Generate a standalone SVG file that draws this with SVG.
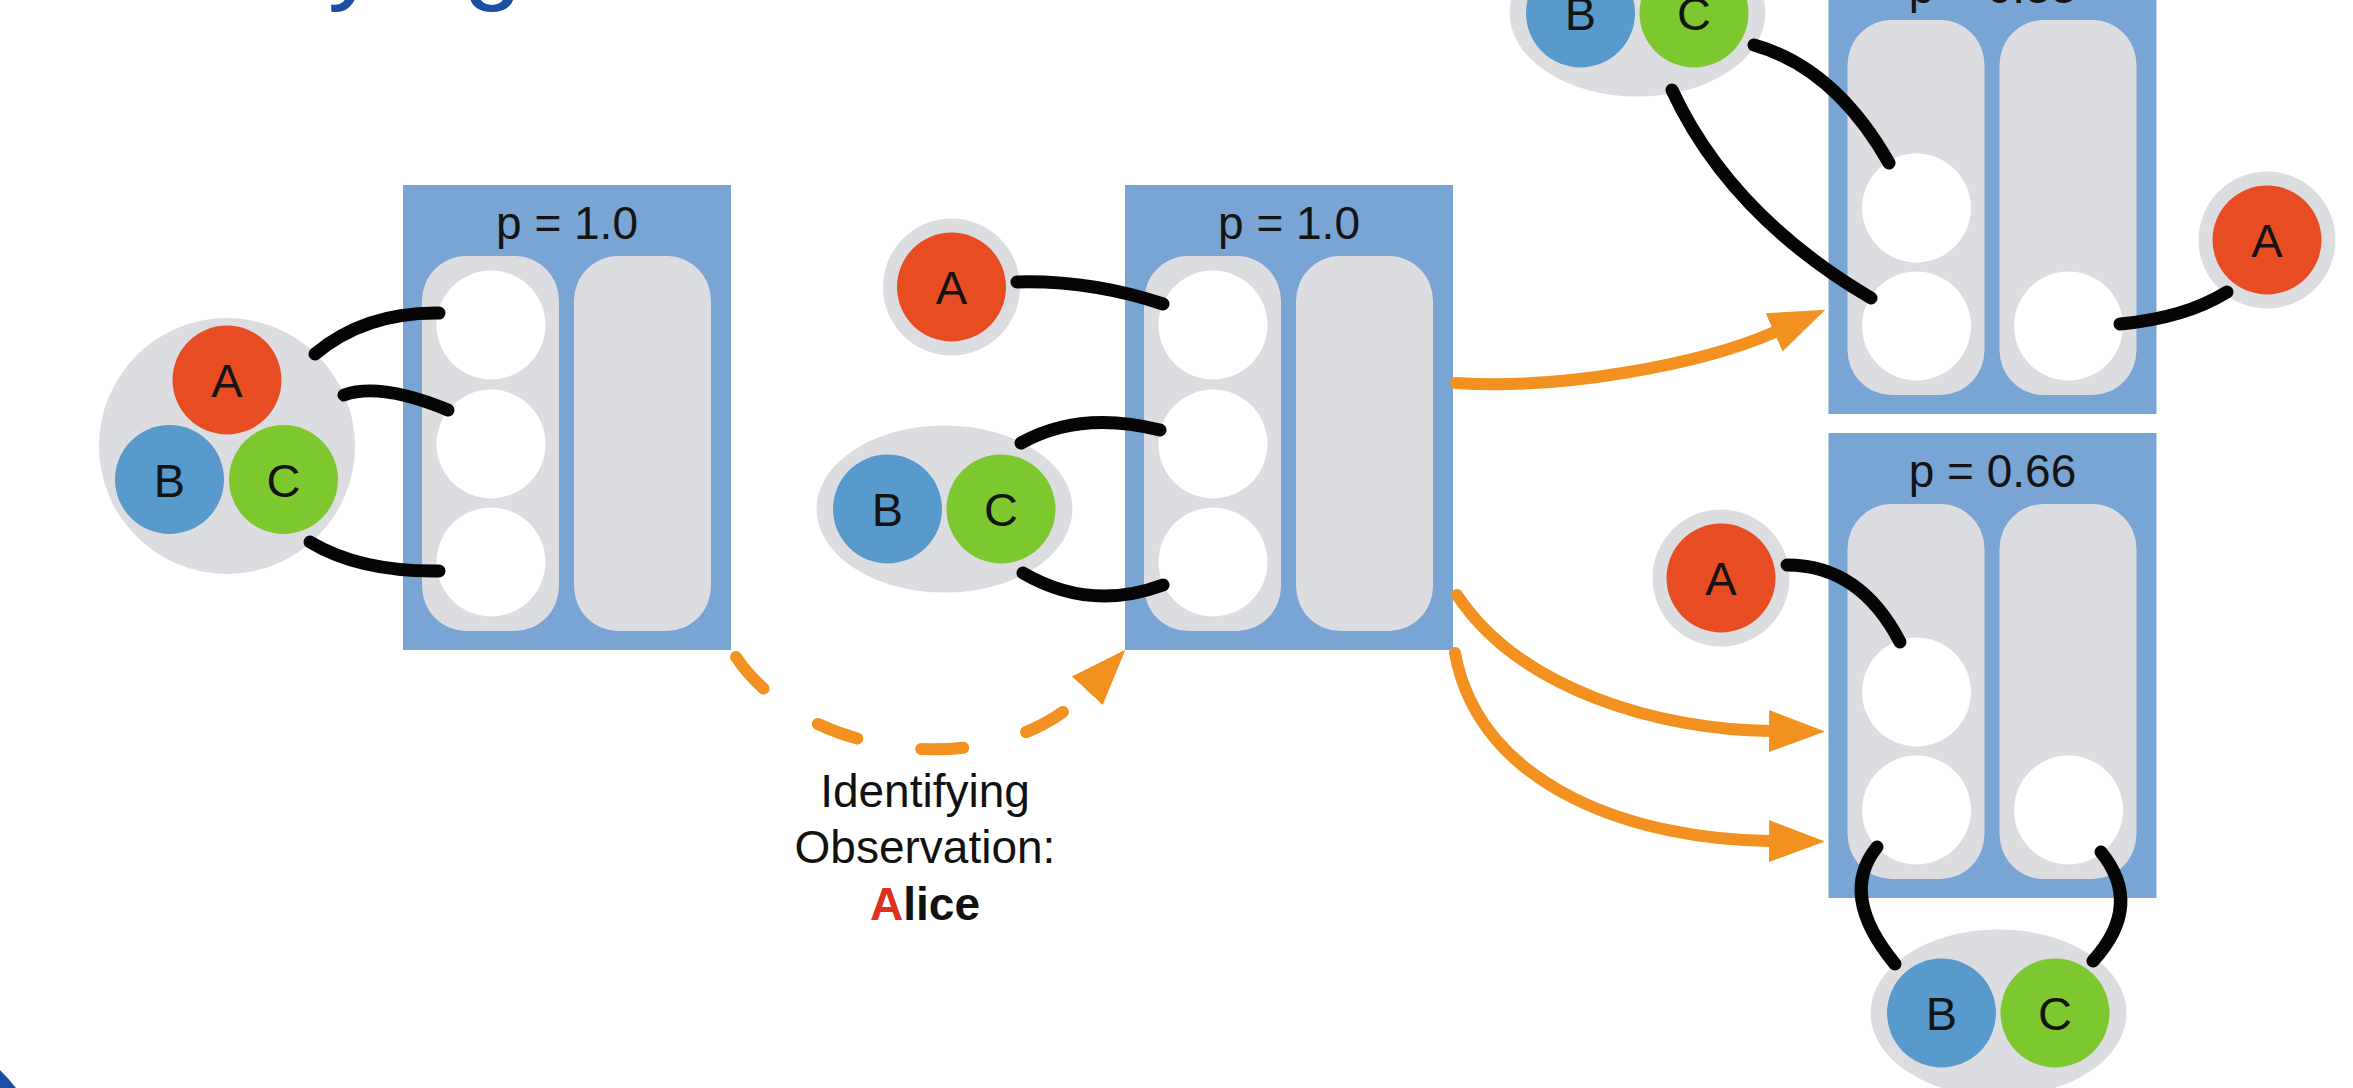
<svg xmlns="http://www.w3.org/2000/svg" width="2353" height="1088" viewBox="0 0 2353 1088">
<defs>
<style>
.box{fill:#79a5d5}
.col{fill:#dcdde1}
.slot{fill:#ffffff}
.halo{fill:#dcdde1}
.ra{fill:#e84c22}
.bb{fill:#579acb}
.gc{fill:#7dc82e}
.lt{font-family:"Liberation Sans",Arial,sans-serif;font-size:47px;fill:#141414;text-anchor:middle}
.pl{font-family:"Liberation Sans",Arial,sans-serif;font-size:46px;fill:#141414;text-anchor:middle}
.cap{font-family:"Liberation Sans",Arial,sans-serif;font-size:46px;fill:#111111;text-anchor:middle}
.link{fill:none;stroke:#050505;stroke-width:13;stroke-linecap:round}
.flow{fill:none;stroke:#f2911f;stroke-width:12;stroke-linecap:round;marker-end:url(#ah)}
.dash{stroke-dasharray:42 65}
</style>
<marker id="ah" markerUnits="userSpaceOnUse" markerWidth="58" markerHeight="44" viewBox="0 0 58 44" refX="1" refY="22" orient="auto"><path d="M0,1 L56,22 L0,43 Z" fill="#f2911f"/></marker>
</defs>
<rect width="2353" height="1088" fill="#ffffff"/>
<g id="title"><text x="39" y="-10" font-family="Liberation Sans, Arial, sans-serif" font-size="106" fill="#1b4fa5">Identifying</text></g>
<path id="frame-corner" d="M0,1070 Q9,1079 16,1088 L0,1088 Z" fill="#1b4fa5"/>

<g id="box1" transform="translate(403,185)">
<rect class="box" width="328" height="465"/>
<text class="pl" x="164" y="54">p = 1.0</text>
<rect class="col" x="19" y="71" width="137" height="375" rx="44" ry="45"/>
<rect class="col" x="171" y="71" width="137" height="375" rx="44" ry="45"/>
<circle class="slot" cx="88" cy="140" r="54.5"/>
<circle class="slot" cx="88" cy="259" r="54.5"/>
<circle class="slot" cx="88" cy="377" r="54.5"/>
</g>
<g id="box2" transform="translate(1125,185)">
<rect class="box" width="328" height="465"/>
<text class="pl" x="164" y="54">p = 1.0</text>
<rect class="col" x="19" y="71" width="137" height="375" rx="44" ry="45"/>
<rect class="col" x="171" y="71" width="137" height="375" rx="44" ry="45"/>
<circle class="slot" cx="88" cy="140" r="54.5"/>
<circle class="slot" cx="88" cy="259" r="54.5"/>
<circle class="slot" cx="88" cy="377" r="54.5"/>
</g>
<g id="box3" transform="translate(1828.5,-51)">
<rect class="box" width="328" height="465"/>
<text class="pl" x="164" y="54">p = 0.33</text>
<rect class="col" x="19" y="71" width="137" height="375" rx="44" ry="45"/>
<rect class="col" x="171" y="71" width="137" height="375" rx="44" ry="45"/>
<circle class="slot" cx="88" cy="259" r="54.5"/>
<circle class="slot" cx="88" cy="377" r="54.5"/>
<circle class="slot" cx="240" cy="377" r="54.5"/>
</g>
<g id="box4" transform="translate(1828.5,433)">
<rect class="box" width="328" height="465"/>
<text class="pl" x="164" y="54">p = 0.66</text>
<rect class="col" x="19" y="71" width="137" height="375" rx="44" ry="45"/>
<rect class="col" x="171" y="71" width="137" height="375" rx="44" ry="45"/>
<circle class="slot" cx="88" cy="259" r="54.5"/>
<circle class="slot" cx="88" cy="377" r="54.5"/>
<circle class="slot" cx="240" cy="377" r="54.5"/>
</g>

<g id="group-abc">
<circle class="halo" cx="227" cy="446" r="128"/>
<circle class="ra" cx="227" cy="380" r="54.5"/>
<circle class="bb" cx="169.5" cy="479.5" r="54.5"/>
<circle class="gc" cx="283.5" cy="479.5" r="54.5"/>
<text class="lt" x="227" y="397">A</text>
<text class="lt" x="169.5" y="496.5">B</text>
<text class="lt" x="283.5" y="496.5">C</text>
</g>
<g id="group-a-2">
<circle class="halo" cx="951.5" cy="287" r="68.5"/>
<circle class="ra" cx="951.5" cy="287" r="54.5"/>
<text class="lt" x="951.5" y="304">A</text>
</g>
<g id="group-bc-2">
<ellipse class="halo" cx="944.5" cy="509" rx="128" ry="83.5"/>
<circle class="bb" cx="887.5" cy="509" r="54.5"/>
<circle class="gc" cx="1001" cy="509" r="54.5"/>
<text class="lt" x="887.5" y="526">B</text>
<text class="lt" x="1001" y="526">C</text>
</g>
<g id="group-bc-3">
<ellipse class="halo" cx="1637.5" cy="13" rx="128" ry="83.5"/>
<circle class="bb" cx="1580.5" cy="13" r="54.5"/>
<circle class="gc" cx="1694" cy="13" r="54.5"/>
<text class="lt" x="1580.5" y="30">B</text>
<text class="lt" x="1694" y="30">C</text>
</g>
<g id="group-a-3">
<circle class="halo" cx="2267" cy="240" r="68.5"/>
<circle class="ra" cx="2267" cy="240" r="54.5"/>
<text class="lt" x="2267" y="257">A</text>
</g>
<g id="group-a-4">
<circle class="halo" cx="1721" cy="578" r="68.5"/>
<circle class="ra" cx="1721" cy="578" r="54.5"/>
<text class="lt" x="1721" y="595">A</text>
</g>
<g id="group-bc-4">
<ellipse class="halo" cx="1998.5" cy="1013" rx="128" ry="83.5"/>
<circle class="bb" cx="1941.5" cy="1013" r="54.5"/>
<circle class="gc" cx="2055" cy="1013" r="54.5"/>
<text class="lt" x="1941.5" y="1030">B</text>
<text class="lt" x="2055" y="1030">C</text>
</g>

<g id="observation-label">
<text class="cap" x="925" y="807">Identifying</text>
<text class="cap" x="925" y="863">Observation:</text>
<text class="cap" x="925" y="920" font-weight="bold"><tspan fill="#e2301f">A</tspan>lice</text>
</g>

<g id="connectors">
<path class="link" d="M315,354 Q365,312 439,313"/>
<path class="link" d="M344,395 Q380,382 448,410"/>
<path class="link" d="M310,542 Q360,572 439,571"/>
<path class="link" d="M1017,282 Q1090,280 1163,304"/>
<path class="link" d="M1021,443 Q1080,410 1160,430"/>
<path class="link" d="M1023,573 Q1090,612 1163,585"/>
<path class="link" d="M1754,45 Q1835,68 1889,163"/>
<path class="link" d="M1672,90 Q1730,215 1871,298"/>
<path class="link" d="M2227,292 Q2185,318 2120,324"/>
<path class="link" d="M1787,565 Q1860,565 1900,642"/>
<path class="link" d="M1877,847 Q1838,895 1895,964"/>
<path class="link" d="M2101,852 Q2144,905 2093,961"/>
<path class="flow dash" d="M736,657 C805,760 1000,785 1088,690"/>
<path class="flow" d="M1456,383 C1560,390 1700,365 1775,332"/>
<path class="flow" d="M1457,595 C1520,690 1660,730 1770,731"/>
<path class="flow" d="M1455,653 C1480,790 1640,840 1770,841"/>
</g>
</svg>
